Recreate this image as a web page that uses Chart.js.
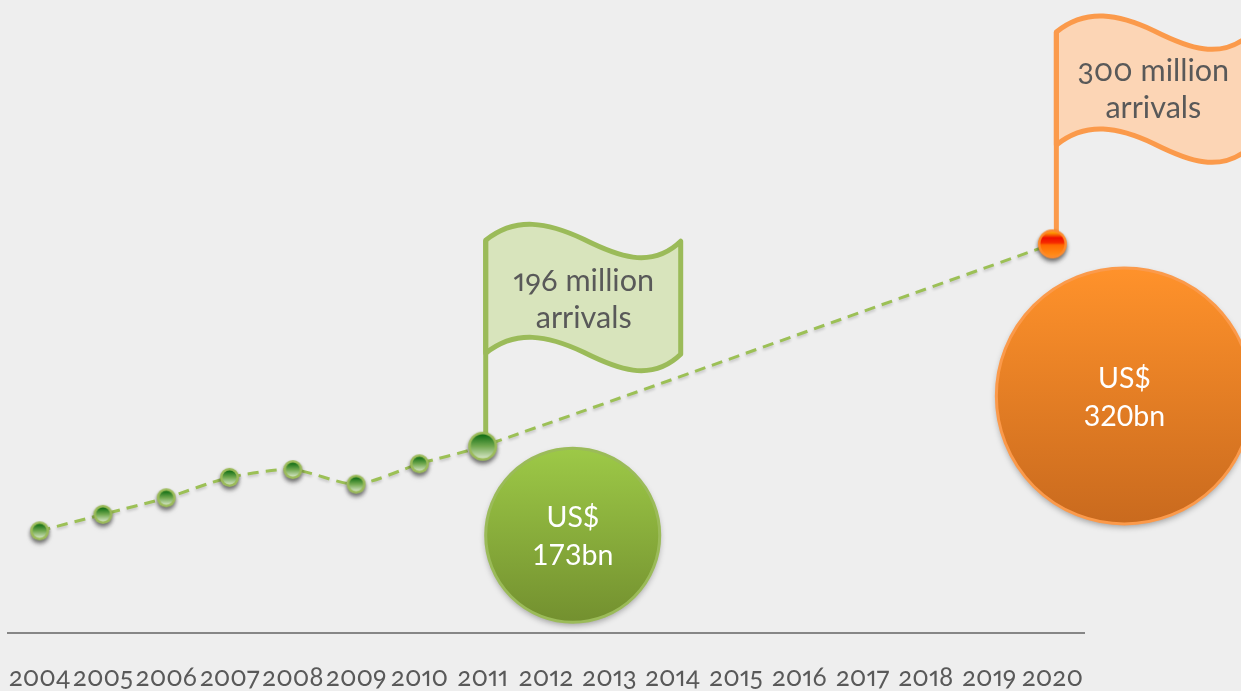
<!DOCTYPE html>
<html>
<head>
<meta charset="utf-8">
<script src="https://cdn.jsdelivr.net/npm/chart.js@4"></script>
<style>
  html, body { margin: 0; padding: 0; background: #eeeeee; overflow: hidden; }
  canvas { display: block; font-feature-settings: "onum" 1, "pnum" 1; }
</style>
</head>
<body>
<canvas id="myChart" width="1241" height="691"></canvas>
<script>
const years = ['2004', '2005', '2006', '2007', '2008', '2009', '2010', '2011', '2012', '2013', '2014', '2015', '2016', '2017', '2018', '2019', '2020'];
// million arrivals, no yearly figures between the 2011 actual and the 2020 target
const arrivals = [152.5, 161, 169.5, 180, 184, 176.5, 187, 196, null, null, null, null, null, null, null, null, 300];
const spendBn = [null, null, null, null, null, null, null, 173, null, null, null, null, null, null, null, null, 320];

const GREEN = '#9bbb59';
const DASH_GREEN = '#9cc056';
const ORANGE = '#fb9a4b';
const TEXT = '#595959';
const FONT = 'Lato, "Open Sans", sans-serif';

// round marker with a glossy fill, drawn once and reused as a pointStyle
function marker(r, stroke, stops) {
  const size = (r + 8) * 2;
  const c = document.createElement('canvas');
  c.width = c.height = size;
  const g = c.getContext('2d');
  const mid = size / 2;
  g.shadowColor = 'rgba(0,0,0,0.45)';
  g.shadowBlur = 4;
  g.shadowOffsetY = 3;
  g.beginPath();
  g.arc(mid, mid, r, 0, Math.PI * 2);
  g.fillStyle = stroke;
  g.fill();
  g.shadowColor = 'transparent';
  const inner = r - 2.5;
  const grad = g.createLinearGradient(0, mid - inner, 0, mid + inner);
  stops.forEach(s => grad.addColorStop(s[0], s[1]));
  g.beginPath();
  g.arc(mid, mid, inner, 0, Math.PI * 2);
  g.fillStyle = grad;
  g.fill();
  return c;
}

const greenStops = [[0, '#0d6b12'], [0.5, '#71a84f'], [1, '#d4e4c4']];
const smallDot = marker(9.5, GREEN, greenStops);
const bigDot = marker(14.5, GREEN, greenStops);
const orangeDot = marker(14.5, '#fd8a2c', [[0, '#ffb000'], [0.25, '#f01000'], [0.45, '#f52a00'], [0.55, '#ff6a00'], [1, '#ff8f1c']]);

function markerFor(i) {
  if (years[i] === '2020') return orangeDot;
  if (years[i] === '2011') return bigDot;
  return smallDot;
}

// flag shape: pole on the left, wavy cloth to the right of it
function drawFlag(ctx, x, top, stroke, fill, poleEnd) {
  const w = 195, h = 113;
  const wave = (y0) => {
    ctx.bezierCurveTo(x + 30, y0 - 24, x + 62, y0 - 18, x + 98, y0 - 1);
    ctx.bezierCurveTo(x + 130, y0 + 15, x + 165, y0 + 30, x + w, y0 + 1);
  };
  const waveBack = (y0) => {
    ctx.bezierCurveTo(x + 165, y0 + 30, x + 130, y0 + 15, x + 98, y0 - 1);
    ctx.bezierCurveTo(x + 62, y0 - 18, x + 30, y0 - 24, x, y0);
  };
  ctx.save();
  ctx.lineJoin = 'round';
  ctx.lineWidth = 5;
  ctx.strokeStyle = stroke;
  ctx.fillStyle = fill;
  ctx.beginPath();
  ctx.moveTo(x, top);
  wave(top);
  ctx.lineTo(x + w, top + h + 1);
  waveBack(top + h);
  ctx.closePath();
  ctx.fill();
  ctx.stroke();
  ctx.beginPath();
  ctx.moveTo(x, top);
  ctx.lineTo(x, poleEnd);
  ctx.stroke();
  ctx.restore();
}

function drawBubble(ctx, cx, cy, r, top, bottom, edge) {
  ctx.save();
  ctx.shadowColor = 'rgba(0,0,0,0.35)';
  ctx.shadowBlur = 6;
  ctx.shadowOffsetY = 3;
  const grad = ctx.createLinearGradient(0, cy - r, 0, cy + r);
  grad.addColorStop(0, top);
  grad.addColorStop(1, bottom);
  ctx.beginPath();
  ctx.arc(cx, cy, r, 0, Math.PI * 2);
  ctx.fillStyle = grad;
  ctx.fill();
  ctx.shadowColor = 'transparent';
  ctx.lineWidth = 3;
  ctx.strokeStyle = edge;
  ctx.stroke();
  ctx.restore();
}

function twoLines(ctx, lines, cx, y, gap, color, size) {
  ctx.save();
  ctx.font = size + 'px ' + FONT;
  ctx.fillStyle = color;
  ctx.textAlign = 'center';
  ctx.textBaseline = 'middle';
  ctx.fillText(lines[0], cx, y);
  ctx.fillText(lines[1], cx, y + gap);
  ctx.restore();
}

// flags and spend bubbles hang off the 2011 and 2020 points
const callouts = {
  id: 'callouts',
  beforeDatasetsDraw(chart) {
    const { ctx, scales: { x, y } } = chart;
    const p2011 = years.indexOf('2011');
    const p2020 = years.indexOf('2020');
    const x11 = x.getPixelForValue(p2011), y11 = y.getPixelForValue(arrivals[p2011]);
    const x20 = x.getPixelForValue(p2020), y20 = y.getPixelForValue(arrivals[p2020]);

    drawFlag(ctx, x11 + 3, y11 - 206, GREEN, '#d8e4bc', y11 - 10);
    drawFlag(ctx, x20 + 4, y20 - 212, ORANGE, '#fcd5b5', y20 - 10);
    drawBubble(ctx, x11 + 90, y11 + 89, 87, '#9dc947', '#73902f', GREEN);
    drawBubble(ctx, x20 + 72, y20 + 152, 128, '#ff922b', '#c96a1e', ORANGE);
  },
  beforeDatasetDraw(chart) {
    const { ctx } = chart;
    ctx.save();
    ctx.shadowColor = 'rgba(0,0,0,0.18)';
    ctx.shadowBlur = 3;
    ctx.shadowOffsetY = 2;
  },
  afterDatasetDraw(chart) {
    chart.ctx.restore();
  },
  afterDatasetsDraw(chart) {
    const { ctx, canvas, scales: { x, y } } = chart;
    const p2011 = years.indexOf('2011');
    const p2020 = years.indexOf('2020');
    const x11 = x.getPixelForValue(p2011), y11 = y.getPixelForValue(arrivals[p2011]);
    const x20 = x.getPixelForValue(p2020), y20 = y.getPixelForValue(arrivals[p2020]);

    twoLines(ctx, [arrivals[p2011] + ' million', 'arrivals'], x11 + 101, y11 - 165, 37, TEXT, 30.6);
    twoLines(ctx, [arrivals[p2020] + ' million', 'arrivals'], x20 + 101, y20 - 173, 37, TEXT, 30.6);
    // money figures use lining digits, everything else old-style
    canvas.style.fontFeatureSettings = '"lnum" 1';
    twoLines(ctx, ['US$', spendBn[p2011] + 'bn'], x11 + 90, y11 + 72, 38, '#ffffff', 28.5);
    twoLines(ctx, ['US$', spendBn[p2020] + 'bn'], x20 + 72, y20 + 135, 38, '#ffffff', 28.5);
    canvas.style.fontFeatureSettings = '';
  }
};

new Chart(document.getElementById('myChart'), {
  type: 'line',
  data: {
    labels: years,
    datasets: [{
      label: 'Arrivals',
      data: arrivals,
      spanGaps: true,
      borderColor: DASH_GREEN,
      borderWidth: 3,
      borderDash: [11, 7],
      tension: 0.25,
      clip: false,
      pointStyle: ctx => markerFor(ctx.dataIndex),
      pointRadius: ctx => (arrivals[ctx.dataIndex] === null ? 0 : 10)
    }]
  },
  options: {
    responsive: false,
    animation: false,
    layout: { autoPadding: false, padding: { left: 8, right: 157, top: 10.5 } },
    plugins: { legend: { display: false }, tooltip: { enabled: false } },
    scales: {
      y: { display: false, min: 100, max: 420 },
      x: {
        offset: true,
        grid: { display: false },
        border: { color: '#868686', width: 2 },
        afterFit: scale => {
          scale.height = 58;
          scale.paddingLeft = 0;
          scale.paddingRight = 0;
        },
        ticks: {
          autoSkip: false,
          maxRotation: 0,
          padding: 21,
          color: TEXT,
          font: { family: FONT, size: 26 }
        }
      }
    }
  },
  plugins: [callouts]
});
</script>
</body>
</html>
